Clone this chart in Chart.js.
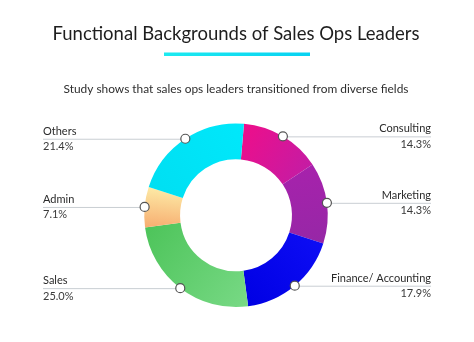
<!DOCTYPE html>
<html>
<head>
<meta charset="utf-8">
<script src="https://cdn.jsdelivr.net/npm/chart.js@4.4.1/dist/chart.umd.min.js"></script>
<style>
  html, body { margin: 0; padding: 0; background: #fff; }
  #wrap { width: 474px; height: 342px; }
</style>
</head>
<body>
<div id="wrap"><canvas id="rolesChart"></canvas></div>
<script>
// data
const categories = ['Consulting', 'Marketing', 'Finance/ Accounting', 'Sales', 'Admin', 'Others'];
const shares = [14.3, 14.3, 17.9, 25.0, 7.1, 21.4];
const shareLabels = ['14.3%', '14.3%', '17.9%', '25.0%', '7.1%', '21.4%'];

// gradient colours per slice (start of arc -> end of arc)
const colorFrom = ['#ee0e8a', '#a722ac', '#0d0df4', '#78d985', '#f7ad70', '#00dff2'];
const colorTo = ['#c41ca4', '#9627a6', '#0000e4', '#4dc45a', '#fdeaa6', '#00e8fb'];

const FONT = 'Lato, "Noto Sans", sans-serif';
const ROTATION = 5;

function sliceFill(context) {
    const i = context.dataIndex;
    const area = context.chart.chartArea;
    if (!area) return colorFrom[i];
    const cx = (area.left + area.right) / 2;
    const cy = (area.top + area.bottom) / 2;
    const r = Math.min(area.right - area.left, area.bottom - area.top) / 2;
    const total = shares.reduce((a, b) => a + b, 0);
    let before = 0;
    for (let k = 0; k < i; k++) before += shares[k];
    const a0 = -Math.PI / 2 + ROTATION * Math.PI / 180 + 2 * Math.PI * before / total;
    const a1 = a0 + 2 * Math.PI * shares[i] / total;
    const g = context.chart.ctx.createLinearGradient(
        cx + r * Math.cos(a0), cy + r * Math.sin(a0),
        cx + r * Math.cos(a1), cy + r * Math.sin(a1));
    g.addColorStop(0, colorFrom[i]);
    g.addColorStop(1, colorTo[i]);
    return g;
}

// cyan bar under the title
const titleBar = {
    id: 'titleBar',
    afterDraw(chart) {
        const ctx = chart.ctx;
        const cx = 237;
        const g = ctx.createLinearGradient(cx - 73, 0, cx + 73, 0);
        g.addColorStop(0, '#1ceaf0');
        g.addColorStop(1, '#07d2f2');
        ctx.save();
        ctx.fillStyle = g;
        ctx.fillRect(cx - 73, 52.5, 146, 3.5);
        ctx.restore();
    }
};

// leader lines, markers and labels
const sliceLabels = {
    id: 'sliceLabels',
    afterDatasetsDraw(chart) {
        const ctx = chart.ctx;
        const meta = chart.getDatasetMeta(0);
        const leftX = 43, rightX = 431;
        ctx.save();
        meta.data.forEach((arc, i) => {
            const {x, y, startAngle, endAngle, outerRadius} = arc.getProps(['x', 'y', 'startAngle', 'endAngle', 'outerRadius'], true);
            const mid = (startAngle + endAngle) / 2;
            const px = x + outerRadius * Math.cos(mid);
            const py = y + outerRadius * Math.sin(mid);
            const right = Math.cos(mid) >= 0;
            const endX = right ? rightX : leftX;

            ctx.strokeStyle = '#c9ced3';
            ctx.lineWidth = 1;
            ctx.beginPath();
            ctx.moveTo(px, py + 0.5);
            ctx.lineTo(endX, py + 0.5);
            ctx.stroke();

            ctx.beginPath();
            ctx.arc(px, py, 4.5, 0, Math.PI * 2);
            ctx.fillStyle = '#fff';
            ctx.fill();
            ctx.strokeStyle = '#555';
            ctx.lineWidth = 1.2;
            ctx.stroke();

            ctx.textAlign = right ? 'right' : 'left';
            ctx.textBaseline = 'alphabetic';
            ctx.font = '11px ' + FONT;
            ctx.fillStyle = '#2a2a2a';
            ctx.fillText(categories[i], endX, py - 4);
            ctx.fillStyle = '#3a3a3a';
            ctx.fillText(shareLabels[i], endX, py + 11.5);
        });
        ctx.restore();
    }
};

new Chart(document.getElementById('rolesChart'), {
    type: 'doughnut',
    data: {
        labels: categories,
        datasets: [{
            data: shares,
            backgroundColor: sliceFill,
            borderWidth: 0,
            hoverOffset: 0
        }]
    },
    options: {
        responsive: true,
        maintainAspectRatio: false,
        animation: false,
        cutout: '61%',
        rotation: ROTATION,
        layout: {
            padding: { left: 40, right: 42, top: 0, bottom: 35 }
        },
        plugins: {
            legend: { display: false },
            tooltip: { enabled: false },
            title: {
                display: true,
                text: 'Functional Backgrounds of Sales Ops Leaders',
                color: '#1e1e1e',
                font: { family: FONT, size: 18.5, weight: 'normal', lineHeight: 1.2 },
                padding: { top: 23, bottom: 37 }
            },
            subtitle: {
                display: true,
                text: 'Study shows that sales ops leaders transitioned from diverse fields',
                color: '#2e2e2e',
                font: { family: FONT, size: 11.9, weight: 'normal', lineHeight: 1.2 },
                padding: { top: 0, bottom: 27 }
            }
        }
    },
    plugins: [titleBar, sliceLabels]
});
</script>
</body>
</html>
